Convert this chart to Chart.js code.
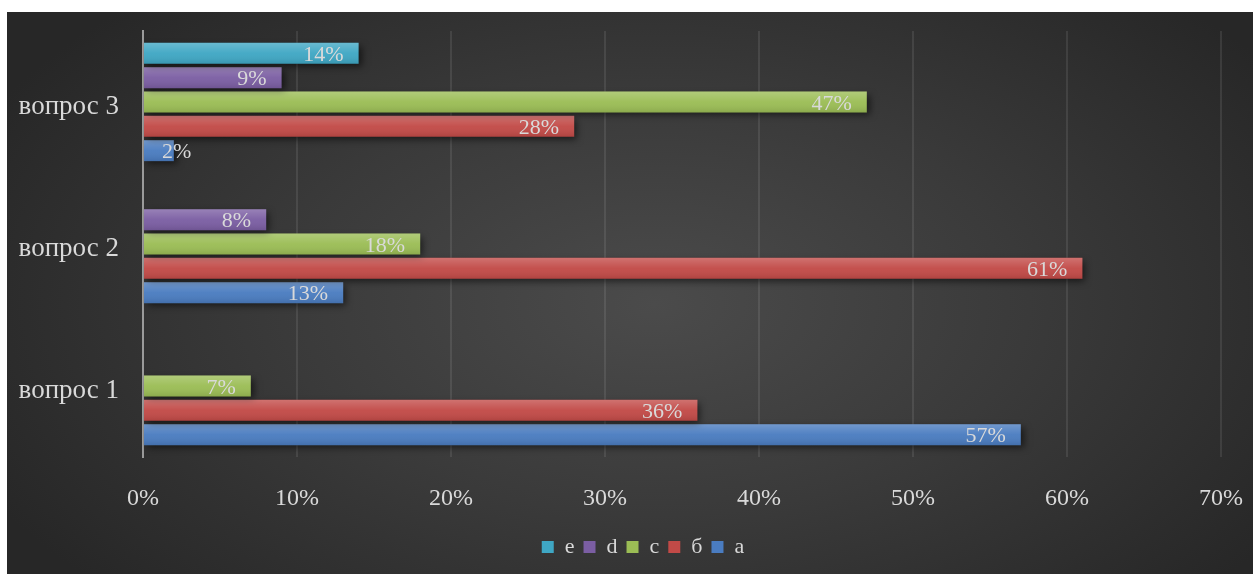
<!DOCTYPE html>
<html>
<head>
<meta charset="utf-8">
<script src="https://cdn.jsdelivr.net/npm/chart.js@4/dist/chart.umd.min.js"></script>
<style>
  html, body { margin: 0; padding: 0; background: #fff; }
  #wrap {
    position: absolute; left: 7px; top: 12px; width: 1246px; height: 562px;
    background: radial-gradient(ellipse 60% 75% at 52% 52%, #4b4b4b 0%, #3a3a3a 50%, #272727 100%);
  }
</style>
</head>
<body>
<div id="wrap"><canvas id="chart" width="1246" height="562"></canvas></div>
<script>
// categories (bottom to top in the picture)
const questions = ['вопрос 1', 'вопрос 2', 'вопрос 3'];
// answer shares, %
const seriesA = [57, 13, 2];
const seriesB = [36, 61, 28];
const seriesC = [7, 18, 47];
const seriesD = [null, 8, 9];
const seriesE = [null, null, 14];
const xTicks = [0, 10, 20, 30, 40, 50, 60, 70];

const textColor = '#d9d9d9';
const serif = '"Liberation Serif", "DejaVu Serif", serif';

// drop shadow under the bars
const barShadow = {
  id: 'barShadow',
  afterLayout(chart) {
    // legend in the picture sits a little right of the canvas centre
    chart.legend.left += 29;
    chart.legend.right += 29;
  },
  beforeDatasetsDraw(chart) {
    const ctx = chart.ctx;
    ctx.save();
    ctx.shadowColor = 'rgba(0,0,0,0.55)';
    ctx.shadowBlur = 7;
    ctx.shadowOffsetX = 3;
    ctx.shadowOffsetY = 3;
  },
  afterDatasetsDraw(chart) {
    const ctx = chart.ctx;
    ctx.restore();
    // soft sheen over every bar, then value labels
    chart.data.datasets.forEach((ds, di) => {
      const meta = chart.getDatasetMeta(di);
      meta.data.forEach((bar, i) => {
        if (ds.data[i] == null) return;
        const top = bar.y - bar.height / 2;
        const g = ctx.createLinearGradient(0, top, 0, top + bar.height);
        g.addColorStop(0, 'rgba(255,255,255,0.22)');
        g.addColorStop(0.5, 'rgba(255,255,255,0.04)');
        g.addColorStop(1, 'rgba(0,0,0,0.10)');
        ctx.fillStyle = g;
        ctx.fillRect(bar.base, top, bar.x - bar.base, bar.height);
      });
    });
    ctx.save();
    ctx.font = '22px ' + serif;
    ctx.fillStyle = textColor;
    ctx.textAlign = 'right';
    ctx.textBaseline = 'middle';
    chart.data.datasets.forEach((ds, di) => {
      const meta = chart.getDatasetMeta(di);
      meta.data.forEach((bar, i) => {
        const v = ds.data[i];
        if (v == null) return;
        const txt = v + '%';
        const w = ctx.measureText(txt).width;
        const x = Math.max(bar.x - 15, bar.base + 18 + w);
        ctx.fillText(txt, x, bar.y + 2);
      });
    });
    ctx.restore();
  }
};

const data = {
  labels: questions,
  datasets: [
    { label: 'e', data: seriesE, backgroundColor: '#3fa7c4' },
    { label: 'd', data: seriesD, backgroundColor: '#7b5ea3' },
    { label: 'c', data: seriesC, backgroundColor: '#9bbd55' },
    { label: 'б', data: seriesB, backgroundColor: '#c24a47' },
    { label: 'a', data: seriesA, backgroundColor: '#4a7cc0' },
  ]
};

const config = {
  type: 'bar',
  data,
  options: {
    indexAxis: 'y',
    responsive: false,
    animation: false,
    categoryPercentage: 0.857,
    barPercentage: 0.86,
    layout: { padding: { top: 19, right: 32, bottom: 6, left: 0 } },
    plugins: {
      tooltip: { enabled: false },
      legend: {
        position: 'bottom',
        labels: {
          color: textColor,
          font: { family: serif, size: 22 },
          boxWidth: 12,
          boxHeight: 12,
          padding: 9
        }
      }
    },
    scales: {
      x: {
        min: 0,
        max: 70,
        afterBuildTicks: (s) => { s.ticks = xTicks.map(v => ({ value: v })); },
        afterFit: (s) => { s.height = 70; s.paddingLeft = 0; s.paddingRight = 0; },
        ticks: {
          color: textColor,
          font: { family: serif, size: 24 },
          padding: 27,
          callback: (v) => v + '%'
        },
        grid: { color: 'rgba(255,255,255,0.09)', lineWidth: 2, drawTicks: false },
        border: { display: false }
      },
      y: {
        reverse: true,
        afterFit: (s) => { s.width = 136; s.paddingTop = 0; s.paddingBottom = 0; },
        ticks: {
          color: textColor,
          font: { family: serif, size: 27 },
          padding: 24,
          labelOffset: 5
        },
        grid: { display: false, drawTicks: false },
        border: { color: '#9a9a9a', width: 2 }
      }
    }
  },
  plugins: [barShadow]
};

new Chart(document.getElementById('chart').getContext('2d'), config);
</script>
</body>
</html>
